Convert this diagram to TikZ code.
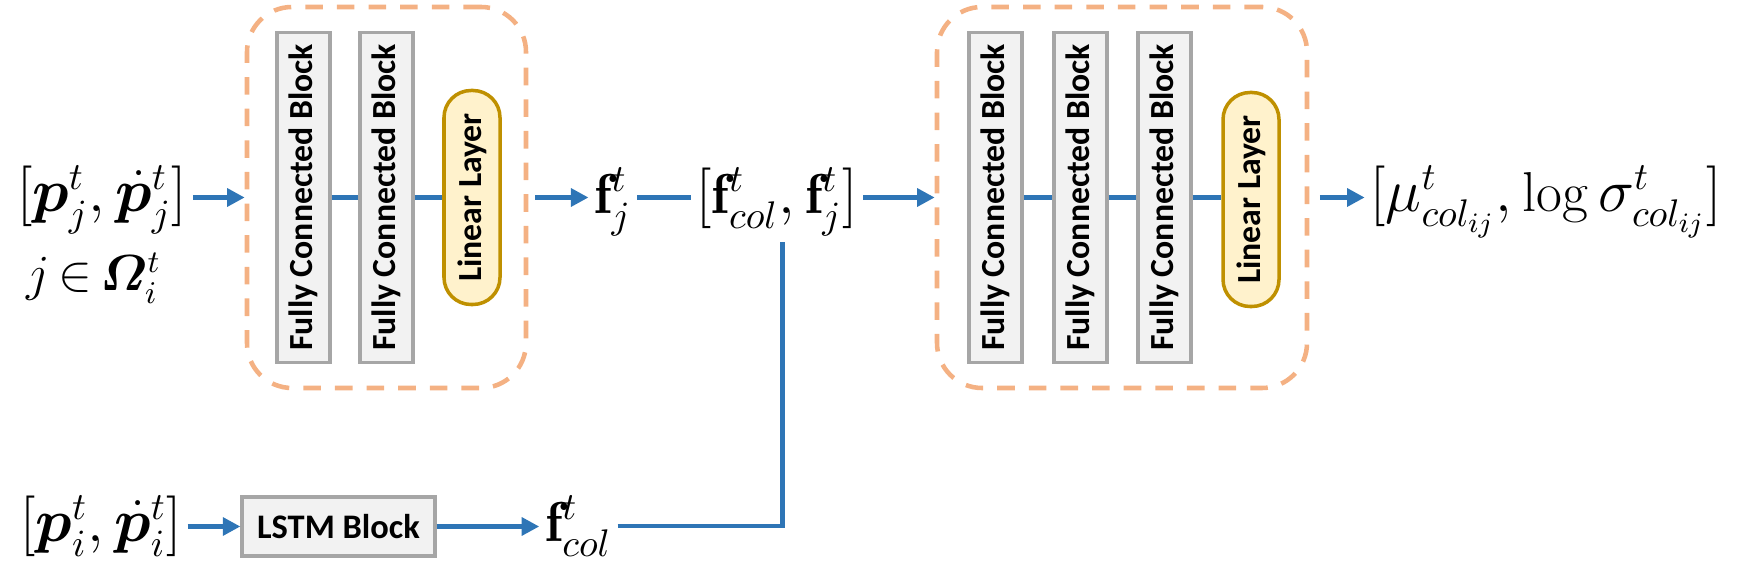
\documentclass[tikz,border=0pt]{standalone}
\usepackage{amsmath,amssymb,bm}
\usepackage{fontspec}
\setsansfont{Carlito}
\usetikzlibrary{positioning,arrows.meta}

\definecolor{arrowblue}{HTML}{2E75B6}
\definecolor{grouporange}{HTML}{F4B183}
\definecolor{blockgray}{HTML}{A6A6A6}
\definecolor{blockfill}{HTML}{F2F2F2}
\definecolor{linfill}{HTML}{FFF2CC}
\definecolor{lindraw}{HTML}{BF9000}

\begin{document}
\begin{tikzpicture}[>={Triangle[length=5pt,width=5pt]},
  conn/.style={draw=arrowblue,line width=1.3pt},
  group/.style={draw=grouporange,line width=1.3pt,dash pattern=on 5pt off 4pt,rounded corners=0.45cm},
  fcblock/.style={draw=blockgray,fill=blockfill,line width=0.9pt,rotate=90,minimum width=3.3cm,minimum height=0.53cm,inner sep=0pt,font=\sffamily\bfseries\fontsize{9.6}{12}\selectfont},
  linlayer/.style={draw=lindraw,fill=linfill,line width=1pt,rotate=90,rounded corners=0.27cm,minimum width=2.14cm,minimum height=0.56cm,inner sep=0pt,font=\sffamily\bfseries\fontsize{9.6}{12}\selectfont},
  lstmbox/.style={draw=blockgray,fill=blockfill,line width=0.9pt,minimum width=1.93cm,minimum height=0.59cm,inner sep=0pt,font=\sffamily\bfseries\fontsize{9.8}{12}\selectfont},
  vec/.style={inner sep=1.5pt,font=\fontsize{16}{19}\selectfont}]
  \useasboundingbox (0,0) rectangle (17.38,5.66);
  % left branch
  \node[group,minimum width=2.79cm,minimum height=3.81cm] (lgrp) at (3.865,3.685) {};
  \node[fcblock] (lfc1) at (3.035,3.685) {Fully Connected Block};
  \node[fcblock] (lfc2) at (3.865,3.685) {Fully Connected Block};
  \node[linlayer] (llin) at (4.72,3.685) {Linear Layer};
  \node[vec] (pj) at (1.02,3.66) {$[\boldsymbol{p}_j^t,\dot{\boldsymbol{p}}_j^t]$};
  \node[vec,font=\fontsize{13.5}{16}\selectfont] (omega) at (0.94,2.88) {$j\,{\in}\,\boldsymbol{\varOmega}_i^t$};
  \node[vec] (fj) at (6.13,3.64) {$\mathbf{f}_j^t$};
  \node[vec] (fcat) at (7.77,3.64) {$[\mathbf{f}_{col}^t,\mathbf{f}_j^t]$};
  % right branch
  \node[group,minimum width=3.70cm,minimum height=3.81cm] (rgrp) at (11.22,3.685) {};
  \node[fcblock] (rfc1) at (9.955,3.685) {Fully Connected Block};
  \node[fcblock] (rfc2) at (10.805,3.685) {Fully Connected Block};
  \node[fcblock] (rfc3) at (11.645,3.685) {Fully Connected Block};
  \node[linlayer] (rlin) at (12.51,3.665) {Linear Layer};
  \node[vec] (out) at (15.46,3.64) {$[\mu_{col_{ij}}^t,\log\sigma_{col_{ij}}^t]$};
  % bottom row
  \node[vec] (pi) at (1.01,0.40) {$[\boldsymbol{p}_i^t,\dot{\boldsymbol{p}}_i^t]$};
  \node[lstmbox] (lstm) at (3.385,0.395) {LSTM Block};
  \node[vec] (fcol) at (5.785,0.40) {$\mathbf{f}_{col}^t$};
  % connectors
  \draw[conn,->] (pj.east |- lgrp) -- (lgrp.west);
  \draw[conn] (lfc1) -- (lfc2); \draw[conn] (lfc2) -- (llin);
  \draw[conn,->,shorten <=2pt] (lgrp.east) -- (fj.west |- lgrp);
  \draw[conn] (fj.east |- lgrp) -- (fcat.west |- lgrp);
  \draw[conn,->] (fcat.east |- rgrp) -- (rgrp.west);
  \draw[conn] (rfc1) -- (rfc2); \draw[conn] (rfc2) -- (rfc3); \draw[conn] (rfc3) -- (rlin.north |- rfc3);
  \draw[conn,->,shorten <=3pt] (rgrp.east) -- (out.west |- rgrp);
  \draw[conn,->] (pi.east |- lstm) -- (lstm.west);
  \draw[conn,->] (lstm.east) -- (fcol.west |- lstm);
  \draw[conn] (fcol.east) -| ([xshift=1.5pt]fcat.south);
\end{tikzpicture}
\end{document}
